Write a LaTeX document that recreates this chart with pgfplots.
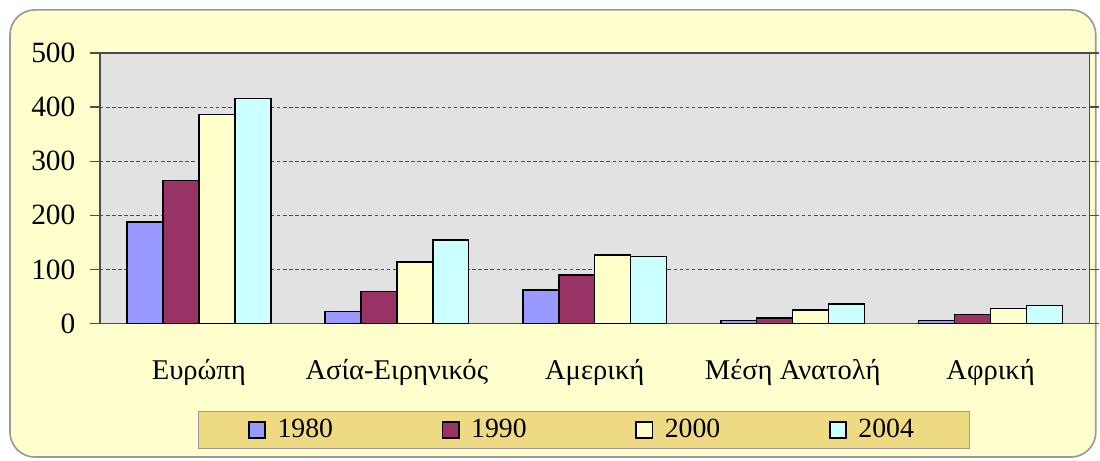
\documentclass[border=0pt]{standalone}
\usepackage{fontspec}
\setmainfont{Liberation Serif}
\usepackage{pgfplots}
\pgfplotsset{compat=1.18}

\definecolor{cA}{RGB}{153,153,255}
\definecolor{cB}{RGB}{153,51,102}
\definecolor{cC}{RGB}{255,255,204}
\definecolor{cD}{RGB}{204,255,255}
\definecolor{frameyellow}{RGB}{255,255,206}
\definecolor{legendgold}{RGB}{238,218,130}
\definecolor{plotgray}{RGB}{226,226,226}

\begin{document}
\begin{tikzpicture}
  % page size = 1100 x 461 px at 0.36pt/px
  \path (0,0) rectangle (396pt,165.96pt);
  \draw[rounded corners=9pt, fill=frameyellow, draw=gray!80, line width=0.6pt]
    (3.6pt,1.2pt) rectangle (395pt,162.4pt);

  \begin{axis}[
    at={(36pt,49.32pt)}, anchor=south west,
    scale only axis, width=356.76pt, height=97.56pt,
    font=\fontsize{10.3}{12}\selectfont,
    /pgf/number format/assume math mode=true,
    axis background/.style={fill=plotgray},
    ybar=0pt, bar width=12.96pt,
    xmin=-0.5, xmax=4.5,
    ymin=0, ymax=500,
    ytick={0,100,...,500},
    xtick={0,1,2,3,4},
    xticklabels={Ευρώπη, Ασία-Ειρηνικός, Αμερική, Μέση Ανατολή, Αφρική},
    major x tick style={draw=none},
    extra x ticks={-0.5,0.5,1.5,2.5,3.5,4.5},
    extra x tick labels={},
    extra x tick style={major tick length=3pt, tick style={draw=gray!60!black}},
    xticklabel style={yshift=-6pt},
    yticklabel style={xshift=-1.8pt, font=\fontsize{10.6}{12}\selectfont},
    tick align=outside,
    major tick length=3.5pt,
    tick style={draw=gray!60!black, line width=0.5pt},
    ymajorgrids=true,
    major grid style={dash pattern=on 1.3pt off 0.9pt, gray!60!black, line width=0.4pt},
    axis line style={draw=gray!60!black, line width=0.6pt},
    every axis plot/.append style={draw=black, line width=0.55pt},
    legend columns=4,
    legend image code/.code={%
      \draw[#1, line width=0.6pt] (0pt,-2.8pt) rectangle (5.8pt,2.8pt);
      \path[draw=none, fill=none] (0pt,0pt) -- (8.3pt,0pt);},
    legend style={
      at={(0.489,-0.393)}, anchor=center,
      fill=legendgold, draw=gray!80, line width=0.5pt,
      inner xsep=18pt, inner ysep=0.6pt,
      /tikz/every even column/.append style={column sep=37.2pt},
      font=\fontsize{10}{11.5}\selectfont,
    },
  ]
    \addplot[fill=cA] coordinates {(0,188) (1,22) (2,62) (3,6) (4,5.5)};
    \addplot[fill=cB] coordinates {(0,264) (1,59) (2,90) (3,10.5) (4,16.5)};
    \addplot[fill=cC] coordinates {(0,386) (1,114) (2,127) (3,25) (4,28)};
    \addplot[fill=cD] coordinates {(0,416) (1,154) (2,124) (3,36) (4,33)};
    \legend{1980, 1990, 2000, 2004}
  \end{axis}
\end{tikzpicture}
\end{document}
